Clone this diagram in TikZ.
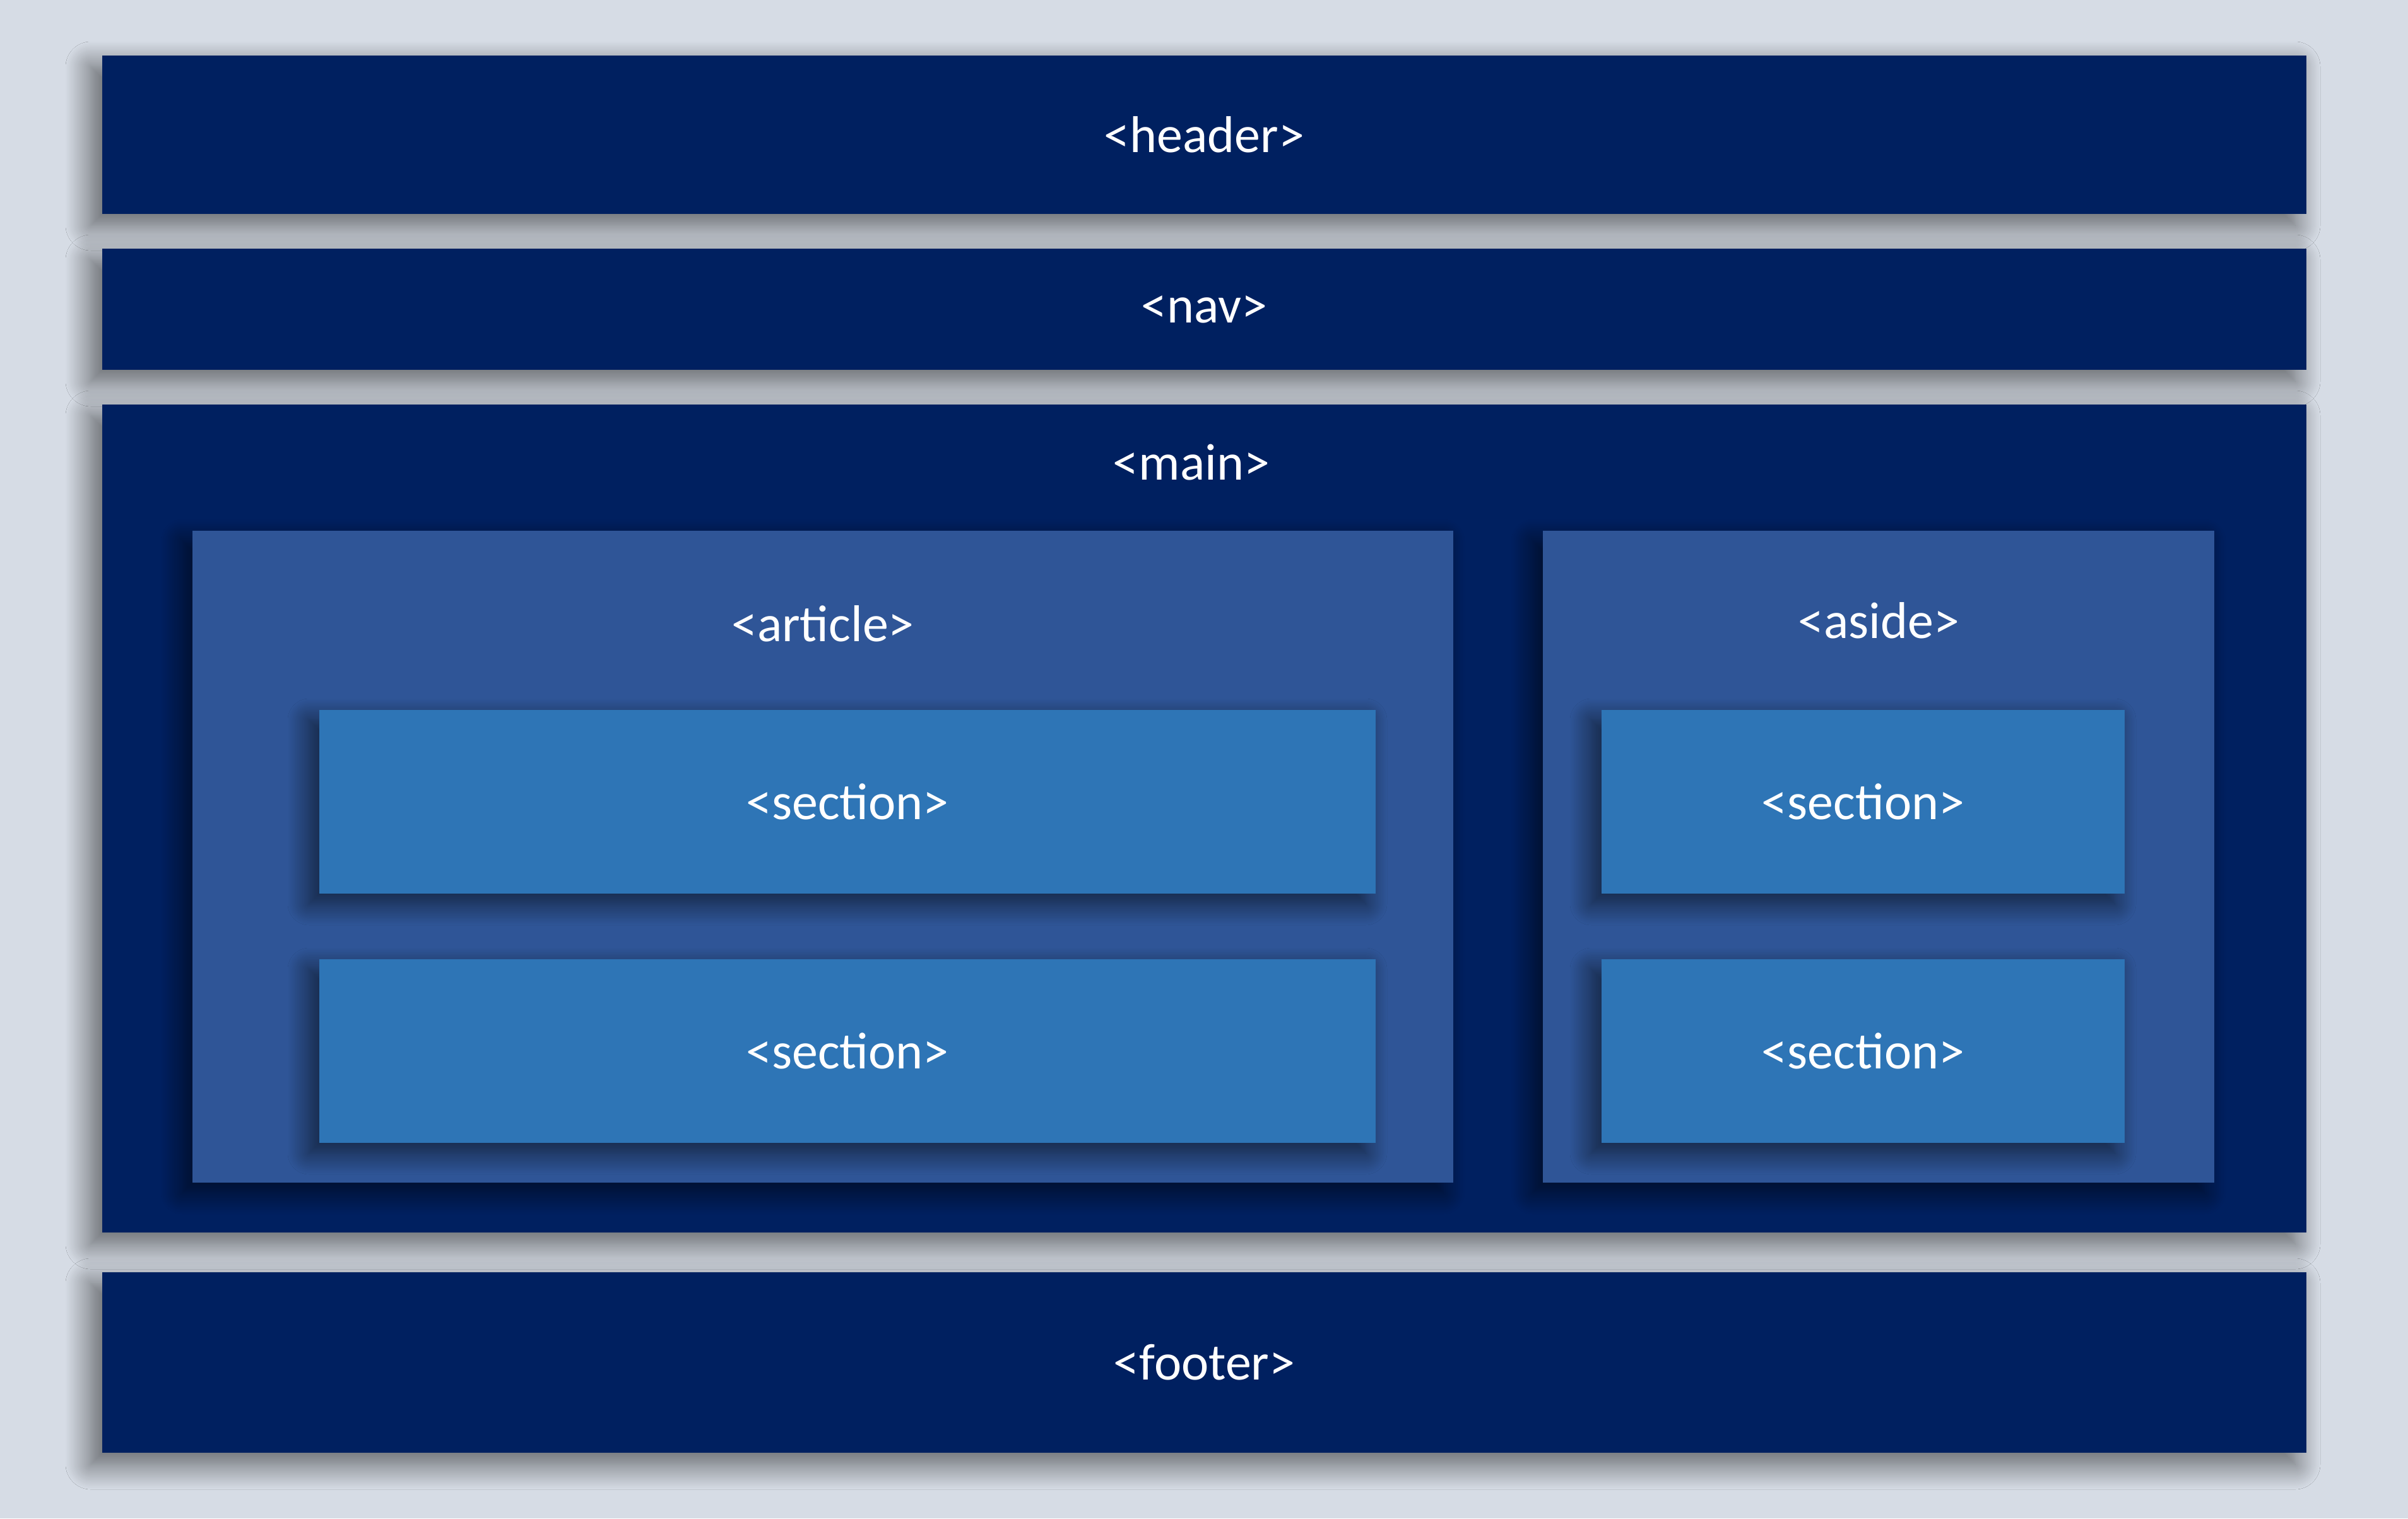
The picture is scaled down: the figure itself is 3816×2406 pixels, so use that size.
\documentclass[tikz,border=0pt]{standalone}
\usepackage{fontspec}
\setmainfont{Carlito}
\usetikzlibrary{shadows.blur}
\definecolor{bgc}{HTML}{D6DCE5}
\definecolor{navy}{HTML}{002060}
\definecolor{midblue}{HTML}{2F5597}
\definecolor{secblue}{HTML}{2E75B6}
\tikzset{
  blk/.style={rectangle, inner sep=0pt, outer sep=0pt, anchor=north west, draw=none},
  outershadow/.style={blur shadow={shadow xshift=-18pt, shadow yshift=-18pt, shadow blur radius=40pt, shadow blur steps=20, shadow opacity=58}},
  innershadow/.style={blur shadow={shadow xshift=-16pt, shadow yshift=-16pt, shadow blur radius=34pt, shadow blur steps=20, shadow opacity=60}},
  lbl/.style={text=white, font=\fontsize{82}{98}\selectfont, inner sep=0pt},
}
\begin{document}
\begin{tikzpicture}[x=1pt,y=-1pt]
\fill[bgc] (0,0) rectangle (3816,2406);
\useasboundingbox (0,0) rectangle (3816,2406);
% outer bands
\node[blk, outershadow, fill=navy, minimum width=3493pt, minimum height=251pt] (header) at (162,88) {};
\node[blk, outershadow, fill=navy, minimum width=3493pt, minimum height=192pt] (nav) at (162,394) {};
\node[blk, outershadow, fill=navy, minimum width=3493pt, minimum height=1312pt] (main) at (162,641) {};
\node[blk, outershadow, fill=navy, minimum width=3493pt, minimum height=286pt] (footer) at (162,2016) {};
% article and aside
\node[blk, innershadow, fill=midblue, minimum width=1998pt, minimum height=1033pt] (article) at (305,841) {};
\node[blk, innershadow, fill=midblue, minimum width=1064pt, minimum height=1033pt] (aside) at (2445,841) {};
% sections
\node[blk, innershadow, fill=secblue, minimum width=1674pt, minimum height=291pt] (secA) at (506,1125) {};
\node[blk, innershadow, fill=secblue, minimum width=1674pt, minimum height=291pt] (secB) at (506,1520) {};
\node[blk, innershadow, fill=secblue, minimum width=829pt, minimum height=291pt] (secC) at (2538,1125) {};
\node[blk, innershadow, fill=secblue, minimum width=829pt, minimum height=291pt] (secD) at (2538,1520) {};
% labels
\node[lbl] (tHeader) at (header.center) {<header>};
\node[lbl] (tNav) at (nav.center) {<nav>};
\node[lbl] (tMain) at (1888,733) {<main>};
\node[lbl] (tFooter) at (footer.center) {<footer>};
\node[lbl] (tArticle) at (1304,988) {<article>};
\node[lbl] (tAside) at (2977,983) {<aside>};
\node[lbl] (tSecA) at (secA.center) {<section>};
\node[lbl] (tSecB) at (secB.center) {<section>};
\node[lbl] (tSecC) at (secC.center) {<section>};
\node[lbl] (tSecD) at (secD.center) {<section>};
\end{tikzpicture}
\end{document}
